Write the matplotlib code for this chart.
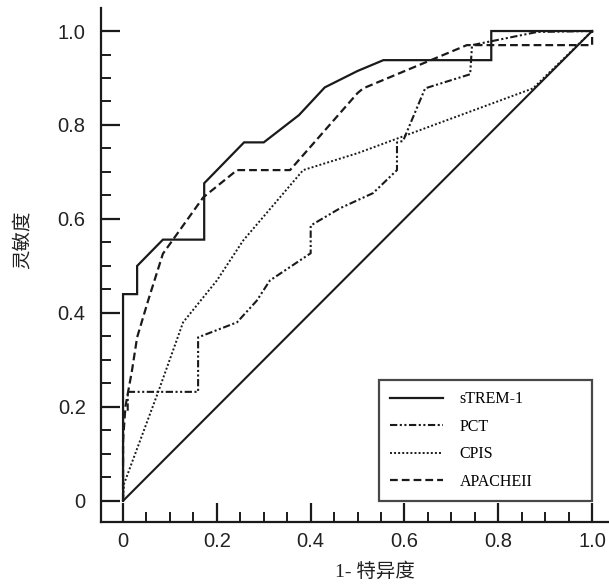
import matplotlib
matplotlib.use("Agg")
import matplotlib.pyplot as plt
from matplotlib.ticker import FixedLocator, FixedFormatter

# ---- data ----
strem_x = [0, 0, 0.03, 0.03, 0.085, 0.173, 0.173, 0.258, 0.30, 0.375, 0.43, 0.50, 0.555, 0.785, 0.785, 1.0]
strem_y = [0, 0.44, 0.44, 0.50, 0.556, 0.556, 0.676, 0.763, 0.763, 0.821, 0.88, 0.915, 0.938, 0.938, 1.0, 1.0]

pct_x = [0, 0, 0.01, 0.01, 0.16, 0.16, 0.243, 0.285, 0.313, 0.40, 0.40, 0.463, 0.533, 0.584, 0.584, 0.597, 0.644, 0.74, 0.744, 0.883, 1.0]
pct_y = [0, 0.19, 0.19, 0.232, 0.232, 0.348, 0.38, 0.426, 0.469, 0.527, 0.586, 0.623, 0.655, 0.704, 0.763, 0.766, 0.878, 0.908, 0.97, 0.998, 1.0]

cpis_x = [0, 0.002, 0.075, 0.128, 0.2, 0.256, 0.384, 0.50, 0.874, 1.0]
cpis_y = [0, 0.036, 0.232, 0.38, 0.469, 0.554, 0.704, 0.74, 0.878, 1.0]

apache_x = [0, 0, 0.005, 0.019, 0.03, 0.054, 0.085, 0.171, 0.243, 0.356, 0.50, 0.512, 0.733, 1.0, 1.0]
apache_y = [0, 0.128, 0.2, 0.277, 0.348, 0.428, 0.526, 0.646, 0.704, 0.704, 0.868, 0.878, 0.97, 0.97, 1.0]

ref_x = [0, 1]
ref_y = [0, 1]

series_names = ["sTREM-1", "PCT", "CPIS", "APACHEII"]
tick_vals = [0, 0.2, 0.4, 0.6, 0.8, 1.0]
tick_labels = ["0", "0.2", "0.4", "0.6", "0.8", "1.0"]

# ---- figure ----
fig = plt.figure(figsize=(6.09, 5.85), dpi=100)
ax = fig.add_axes([101/609, 1-522/585, 1-101/609, (522-8)/585])

c = "#1a1a1a"
ax.plot(strem_x, strem_y, color=c, lw=1.6, solid_joinstyle="miter", label=series_names[0])
ax.plot(pct_x, pct_y, color=c, lw=1.5, dashes=(3.5, 1.2, 1, 1.2, 1, 1.2), label=series_names[1])
ax.plot(cpis_x, cpis_y, color=c, lw=1.4, dashes=(1, 1.1), label=series_names[2])
ax.plot(apache_x, apache_y, color=c, lw=1.6, dashes=(3.5, 1.8), label=series_names[3])
ax.plot(ref_x, ref_y, color=c, lw=1.5)

ax.set_xlim(-0.047, 1.036)
ax.set_ylim(-0.045, 1.049)

for s in ["top", "right"]:
    ax.spines[s].set_visible(False)
for s in ["left", "bottom"]:
    ax.spines[s].set_linewidth(1.6)
    ax.spines[s].set_color(c)

ax.xaxis.set_major_locator(FixedLocator(tick_vals))
ax.xaxis.set_major_formatter(FixedFormatter(tick_labels))
ax.yaxis.set_major_locator(FixedLocator(tick_vals))
ax.yaxis.set_major_formatter(FixedFormatter(tick_labels))
minor = [v / 20 for v in range(1, 20) if v % 4 != 0]
ax.xaxis.set_minor_locator(FixedLocator(minor))
ax.yaxis.set_minor_locator(FixedLocator(minor))

ax.tick_params(which="major", direction="in", length=14, width=1.6, color=c)
ax.tick_params(which="minor", direction="in", length=7, width=1.4, color=c)
ax.tick_params(axis="x", which="major", pad=7, labelsize=14.5, labelcolor="#222222")
ax.tick_params(axis="y", which="major", pad=11, labelsize=14.5, labelcolor="#222222")
for lab in ax.get_xticklabels() + ax.get_yticklabels():
    lab.set_family("Liberation Sans")

fig.text(22/609, 1-240/585, "灵敏度", rotation=90, ha="center", va="center",
         fontsize=14, family=["Noto Sans CJK SC", "DejaVu Sans"], color="#222222")
fig.text(375/609, 1-572/585, "1- 特异度", ha="center", va="center",
         fontsize=14, family=["Liberation Serif", "Noto Sans CJK SC"], color="#222222")

leg = ax.legend(loc="lower left", bbox_to_anchor=(0.546, 0.0, 0.454, 0.257),
                bbox_transform=ax.transData, mode="expand", borderaxespad=0,
                prop={"family": "Liberation Serif", "size": 11.5},
                handlelength=3.3, handletextpad=1.05, labelspacing=0.72,
                borderpad=0.7, fancybox=False, frameon=True)
leg.get_frame().set_edgecolor(c)
leg.get_frame().set_linewidth(1.6)

fig.savefig("out.png", dpi=100)
